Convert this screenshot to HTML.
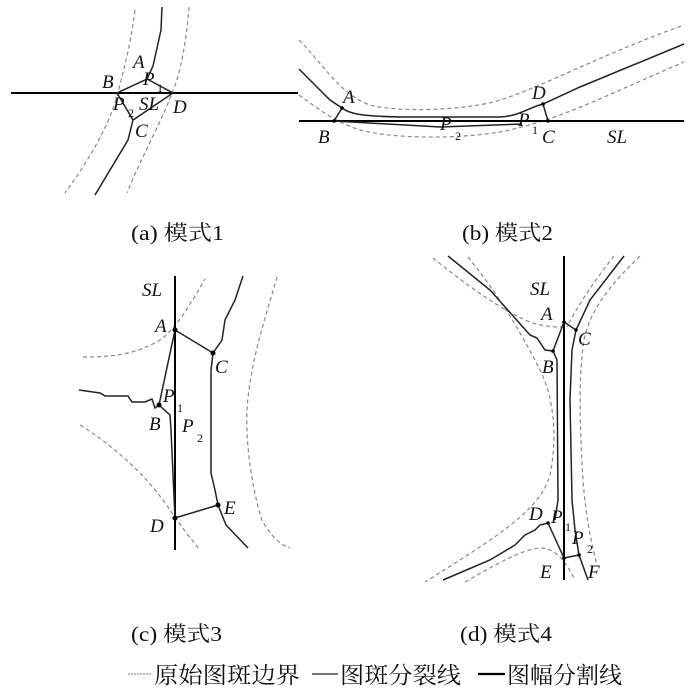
<!DOCTYPE html>
<html><head><meta charset="utf-8"><style>
html,body{margin:0;padding:0;background:#fff;}
svg{display:block}
.s{fill:none;stroke:#222;stroke-width:1.5}
.t{fill:none;stroke:#000;stroke-width:2}
.d{fill:none;stroke:#888;stroke-width:1.2;stroke-dasharray:4,3}
.l{font-family:"Liberation Serif",serif;font-style:italic;font-size:19px;fill:#111}
.sb{font-family:"Liberation Serif",serif;font-size:12px;fill:#111}
.c{font-family:"Liberation Serif","Noto Serif CJK SC",serif;font-size:21px;fill:#111}
</style></head><body>
<svg width="700" height="698" viewBox="0 0 700 698" xmlns="http://www.w3.org/2000/svg">
<!-- (a) -->
<path class="d" d="M135,10 C130,50 122,75 118,93 C108,130 85,165 65,193"/>
<path class="d" d="M189,7 C186,45 180,75 172,93 C160,125 140,160 127,193"/>
<line class="t" x1="11" y1="93" x2="298" y2="93"/>
<path class="s" d="M162,7 L161,30 L153,66 L147,79 L117,93 M147,79 L173,93 L133,120 L117,93 M133,120 L128,140 L95,195"/>
<text class="l" x="133" y="68">A</text>
<text class="l" x="143" y="85">P</text><text class="sb" x="157" y="92">1</text>
<text class="l" x="102" y="88">B</text>
<text class="l" x="113" y="110">P</text><text class="sb" x="128" y="117">2</text>
<text class="l" x="139" y="110">SL</text>
<text class="l" x="173" y="113">D</text>
<text class="l" x="135" y="137">C</text>
<!-- (b) -->
<path class="d" d="M299,40 C320,60 340,95 370,105 C400,113 470,110 500,100 C540,88 600,55 684,25"/>
<path class="d" d="M299,95 C320,110 335,122 360,130 C390,138 450,140 500,132 C560,120 600,98 684,62"/>
<line class="t" x1="299" y1="121" x2="684" y2="121"/>
<path class="s" d="M299,69 L330,100 L342,108 C350,114 360,116 400,117 L500,117 C520,116 530,107 543,104 L580,87 L684,44"/>
<path class="s" d="M334,121 L440,127 L522,124 M342,108 L334,121 M543,104 L548,121"/>
<circle cx="342" cy="108" r="1.8"/><circle cx="334" cy="121" r="1.8"/><circle cx="543" cy="104" r="1.8"/><circle cx="548" cy="121" r="1.8"/>
<text class="l" x="343" y="103">A</text>
<text class="l" x="532" y="99">D</text>
<text class="l" x="440" y="130">P</text><text class="sb" x="455" y="140">2</text>
<text class="l" x="518" y="126">P</text><text class="sb" x="532" y="134">1</text>
<text class="l" x="318" y="143">B</text>
<text class="l" x="542" y="143">C</text>
<text class="l" x="607" y="143">SL</text>
<text class="c" x="131" y="240" textLength="93" lengthAdjust="spacingAndGlyphs">(a) 模式1</text>
<text class="c" x="462" y="240" textLength="91" lengthAdjust="spacingAndGlyphs">(b) 模式2</text>
<!-- (c) -->
<path class="d" d="M83,357 C110,357 135,355 160,340 C175,330 190,305 205,279"/>
<path class="d" d="M80,425 C120,450 150,480 170,510 C182,528 192,540 200,550"/>
<path class="d" d="M277,277 C268,310 250,360 247,410 C245,450 255,500 262,520 C270,535 280,545 290,548"/>
<line class="t" x1="175" y1="276" x2="175" y2="550"/>
<path class="s" d="M243,276 L235,300 L225,320 L222,340 L213,353 L211,370 L211,473 L215,490 L218,505 L226,525 L248,548"/>
<path class="s" d="M175,330 L213,353 M175,330 L159,405 L170,415 L171,430 L175,518 L218,505"/>
<path class="s" d="M79,390 L100,393 L105,396 L128,396 L132,402 L145,402 L152,399 L155,408 L159,405"/>
<circle cx="175" cy="330" r="2.5"/><circle cx="213" cy="353" r="2.5"/><circle cx="159" cy="405" r="2.5"/><circle cx="175" cy="518" r="2.5"/><circle cx="218" cy="505" r="2.5"/>
<text class="l" x="142" y="296">SL</text>
<text class="l" x="155" y="332">A</text>
<text class="l" x="215" y="373">C</text>
<text class="l" x="163" y="402">P</text><text class="sb" x="177" y="412">1</text>
<text class="l" x="149" y="430">B</text>
<text class="l" x="182" y="432">P</text><text class="sb" x="197" y="442">2</text>
<text class="l" x="224" y="514">E</text>
<text class="l" x="150" y="532">D</text>
<!-- (d) -->
<path class="d" d="M433,258 C460,280 500,310 530,322 C545,327 555,327 562,327"/>
<path class="d" d="M468,257 C495,290 520,330 540,370 C555,400 557,440 550,475 C540,510 500,535 425,582"/>
<path class="d" d="M465,582 C495,565 520,550 540,548 C555,548 565,560 575,580"/>
<path class="d" d="M614,256 C595,280 578,305 567,327"/>
<path class="d" d="M640,256 C610,285 590,310 584,340 C578,380 580,430 583,480 C586,520 592,545 597,565"/>
<line class="t" x1="564" y1="256" x2="564" y2="580"/>
<path class="s" d="M448,256 L490,290 L530,335 L537,338 L545,350 L553,351 L557,360 L558,500 L555,520"/>
<path class="s" d="M624,256 L590,300 L576,330 L572,350 L570,400 L572,500 L575,530 L579,555 L588,580"/>
<path class="s" d="M564,322 L553,351 M564,322 L576,330 M548,523 L564,558 L579,555"/>
<path class="s" d="M443,580 L490,560 L515,545 L525,535 L535,530 L540,525 L548,523"/>
<circle cx="564" cy="322" r="1.8"/><circle cx="576" cy="330" r="1.8"/><circle cx="553" cy="351" r="1.8"/><circle cx="548" cy="523" r="1.8"/><circle cx="564" cy="558" r="1.8"/><circle cx="579" cy="555" r="1.8"/>
<text class="l" x="530" y="295">SL</text>
<text class="l" x="541" y="320">A</text>
<text class="l" x="578" y="345">C</text>
<text class="l" x="542" y="373">B</text>
<text class="l" x="529" y="520">D</text>
<text class="l" x="551" y="523">P</text><text class="sb" x="565" y="531">1</text>
<text class="l" x="572" y="544">P</text><text class="sb" x="587" y="553">2</text>
<text class="l" x="540" y="578">E</text>
<text class="l" x="588" y="578">F</text>
<text class="c" x="131" y="641" textLength="91" lengthAdjust="spacingAndGlyphs">(c) 模式3</text>
<text class="c" x="460" y="641" textLength="92" lengthAdjust="spacingAndGlyphs">(d) 模式4</text>
<!-- legend -->
<line x1="128" y1="674" x2="152" y2="674" stroke="#999" stroke-width="1.2" stroke-dasharray="2,1"/>
<text class="c" x="154" y="683" style="font-size:23px" textLength="146" lengthAdjust="spacingAndGlyphs">原始图斑边界</text>
<line x1="312" y1="674" x2="338" y2="674" stroke="#444" stroke-width="1.4"/>
<text class="c" x="340" y="683" style="font-size:23px" textLength="121" lengthAdjust="spacingAndGlyphs">图斑分裂线</text>
<line x1="478" y1="674" x2="505" y2="674" stroke="#000" stroke-width="2.2"/>
<text class="c" x="507" y="683" style="font-size:23px" textLength="115" lengthAdjust="spacingAndGlyphs">图幅分割线</text>
</svg>
</body></html>
